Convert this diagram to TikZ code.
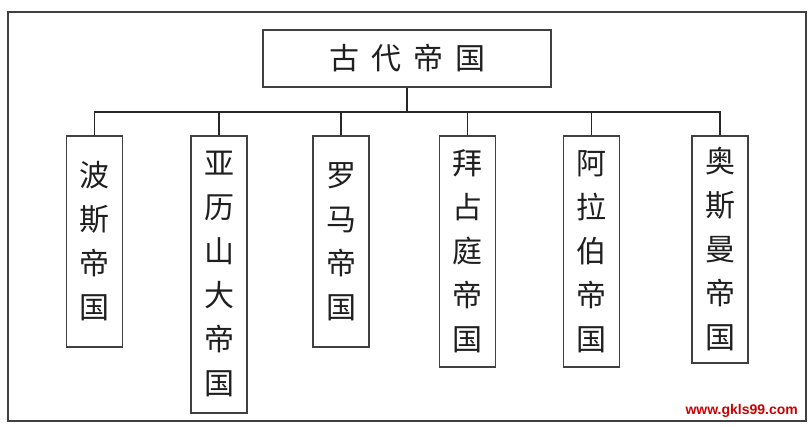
\documentclass[tikz,border=0pt]{standalone}
\usepackage{fontspec}
\setmainfont{Liberation Sans}
\newfontfamily\cjk{Noto Sans CJK SC}
\begin{document}
\begin{tikzpicture}[x=1pt,y=-1pt,
  frame/.style={draw=black!75,line width=2pt},
  box/.style={draw=black!75,line width=1.9pt,rectangle,inner sep=0pt,
    font=\cjk\fontsize{30}{44}\selectfont,text=black!88,align=center},
  kid/.style={box,anchor=north,minimum width=56pt},
  link/.style={draw=black!85,line width=1.8pt}]
\useasboundingbox (0,0) rectangle (812,426);
\draw[frame] (8,12) rectangle (806,421);
\node[box,minimum width=288pt,minimum height=57pt] (top) at (407,58.5)
  {古\hspace{12pt}代\hspace{12pt}帝\hspace{12pt}国};
\node[kid,minimum height=211pt] (c1) at (94.5,135) {波\\斯\\帝\\国};
\node[kid,minimum height=277pt] (c2) at (219,135) {亚\\历\\山\\大\\帝\\国};
\node[kid,minimum height=211pt] (c3) at (341,135) {罗\\马\\帝\\国};
\node[kid,minimum height=231pt] (c4) at (467.5,135) {拜\\占\\庭\\帝\\国};
\node[kid,minimum height=231pt] (c5) at (591.5,135) {阿\\拉\\伯\\帝\\国};
\node[kid,minimum height=227pt] (c6) at (720,135) {奥\\斯\\曼\\帝\\国};
\coordinate (b) at (0,112);
\draw[link] (top.south) -- (top.south |- b);
\draw[link] (c1.north) -- (c1.north |- b) -- (c6.north |- b) -- (c6.north);
\foreach \n in {c2,c3,c4,c5} \draw[link] (\n.north) -- (\n.north |- b);
\node[font=\bfseries\fontsize{14}{16}\selectfont,text={rgb,255:red,204;green,0;blue,0},anchor=east,inner sep=0pt] (wm) at (798,411) {www.gkls99.com};
\end{tikzpicture}
\end{document}
